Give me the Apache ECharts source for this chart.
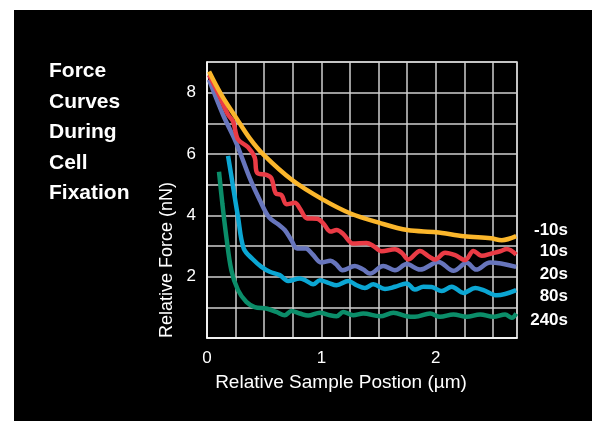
<!DOCTYPE html>
<html>
<head>
<meta charset="utf-8">
<script src="https://cdn.jsdelivr.net/npm/echarts@6/dist/echarts.min.js"></script>
<style>
  html, body { margin: 0; padding: 0; background: #fff; width: 592px; height: 421px; overflow: hidden; }
  #chart { position: absolute; left: 14px; top: 10px; width: 578px; height: 411px; }
</style>
</head>
<body>
<div id="chart"></div>
<script>
// series labels shown at the right edge, top to bottom
const seriesNames = ['-10s', '10s', '20s', '80s', '240s']
const titleLines  = ['Force', 'Curves', 'During', 'Cell', 'Fixation']
const xTickLabels = ['0', '1', '2']

// [position (µm), force]
const fix10 = [
  [0.018, 8.69], [0.126, 7.93], [0.257, 7.17], [0.374, 6.51], [0.496, 5.97],
  [0.744, 5.15], [1.01, 4.52], [1.255, 4.06], [1.503, 3.76], [1.751, 3.52],
  [2.002, 3.45], [2.248, 3.32], [2.481, 3.25], [2.577, 3.19], [2.703, 3.32],
]
const fixP10 = [
  [0.018, 8.58], [0.111, 7.88], [0.184, 7.28], [0.228, 7.06], [0.271, 6.48],
  [0.359, 6.22], [0.417, 5.89], [0.438, 5.39], [0.52, 5.32], [0.563, 5.21],
  [0.601, 4.72], [0.651, 4.66], [0.695, 4.36], [0.768, 4.41], [0.811, 4.23],
  [0.876, 3.90], [0.963, 3.89], [1.016, 3.74], [1.08, 3.47], [1.133, 3.52],
  [1.191, 3.39], [1.278, 3.08], [1.395, 3.10], [1.454, 3.00], [1.527, 2.83],
  [1.643, 2.89], [1.702, 2.78], [1.76, 2.56], [1.862, 2.84], [1.935, 2.67],
  [1.994, 2.56], [2.081, 2.78], [2.169, 2.70], [2.256, 2.54], [2.329, 2.84],
  [2.402, 2.68], [2.49, 2.76], [2.563, 2.83], [2.621, 2.90], [2.703, 2.72],
]
const fix20 = [
  [0.018, 8.42], [0.14, 7.28], [0.257, 6.35], [0.374, 5.21], [0.461, 4.50],
  [0.543, 3.93], [0.622, 3.71], [0.68, 3.52], [0.738, 3.19], [0.788, 2.92],
  [0.864, 2.92], [0.922, 2.73], [1.001, 2.46], [1.08, 2.52], [1.127, 2.41],
  [1.185, 2.21], [1.293, 2.35], [1.366, 2.23], [1.424, 2.10], [1.541, 2.35],
  [1.643, 2.21], [1.745, 2.41], [1.862, 2.23], [2.023, 2.48], [2.154, 2.19],
  [2.271, 2.45], [2.353, 2.23], [2.475, 2.46], [2.703, 2.32],
]
const fix80 = [
  [0.184, 5.94], [0.228, 4.93], [0.271, 3.95], [0.321, 2.92], [0.403, 2.56],
  [0.476, 2.32], [0.549, 2.16], [0.636, 2.05], [0.709, 1.86], [0.811, 1.94],
  [0.87, 1.86], [0.928, 1.75], [0.987, 1.88], [1.06, 1.80], [1.133, 1.72],
  [1.235, 1.86], [1.308, 1.72], [1.381, 1.63], [1.454, 1.75], [1.556, 1.60],
  [1.643, 1.67], [1.745, 1.78], [1.818, 1.58], [1.891, 1.67], [1.964, 1.66],
  [2.052, 1.53], [2.14, 1.67], [2.242, 1.47], [2.344, 1.63], [2.417, 1.56],
  [2.534, 1.39], [2.703, 1.56],
]
const fix240 = [
  [0.105, 5.42], [0.134, 4.39], [0.169, 3.30], [0.213, 2.21], [0.271, 1.56],
  [0.344, 1.18], [0.417, 1.01], [0.52, 0.96], [0.607, 0.85], [0.68, 0.74],
  [0.738, 0.88], [0.811, 0.80], [0.884, 0.73], [0.987, 0.82], [1.074, 0.74],
  [1.133, 0.71], [1.191, 0.85], [1.278, 0.74], [1.366, 0.80], [1.512, 0.71],
  [1.629, 0.82], [1.745, 0.71], [1.818, 0.69], [1.95, 0.80], [2.037, 0.69],
  [2.154, 0.77], [2.271, 0.69], [2.388, 0.77], [2.504, 0.69], [2.606, 0.77],
  [2.665, 0.66], [2.703, 0.80],
]

const COLORS = ['#fbb62b', '#ea3b45', '#6775bc', '#0ba6d3', '#0b8d69']
const seriesData = [fix10, fixP10, fix20, fix80, fix240]

const FONT = '"Liberation Sans", Arial, sans-serif'
const chart = echarts.init(document.getElementById('chart'))

// draw green first so the yellow curve ends up on top
const series = seriesData.map((d, i) => ({
  name: seriesNames[i],
  type: 'line',
  data: d,
  smooth: 0.35,
  showSymbol: false,
  z: 10 - i,
  lineStyle: { color: COLORS[i], width: 4.5 },
  itemStyle: { color: COLORS[i] },
}))

const rightLabelY = [220, 241.7, 264, 286.7, 310]

chart.setOption({
  backgroundColor: '#000',
  animation: false,
  grid: {
    left: 193, top: 52, width: 310, height: 276,
    show: true, borderColor: '#e0e0e0', borderWidth: 1.5,
  },
  xAxis: {
    type: 'value',
    min: 0, max: 2.71, interval: 0.25,
    axisLine: { show: true, lineStyle: { color: '#fff', width: 1.5 } },
    axisTick: { show: false },
    axisLabel: {
      color: '#fff', fontSize: 17, fontFamily: FONT, margin: 12,
      formatter: v => (Number.isInteger(v) ? xTickLabels[v] : ''),
    },
    splitLine: { show: true, lineStyle: { color: '#cfcfcf', width: 1.5 } },
  },
  yAxis: {
    type: 'value',
    min: 0, max: 9, interval: 1,
    axisLine: { show: true, lineStyle: { color: '#fff', width: 1.5 } },
    axisTick: { show: false },
    axisLabel: {
      color: '#fff', fontSize: 17, fontFamily: FONT, margin: 11,
      formatter: v => (v > 0 && v % 2 === 0 ? String(v) : ''),
    },
    splitLine: { show: true, lineStyle: { color: '#cfcfcf', width: 1.5 } },
  },
  graphic: [
    {
      type: 'text', left: 35, top: 46,
      style: {
        text: titleLines.join('\n'), fill: '#fff',
        font: 'bold 21px ' + FONT, lineHeight: 30.6,
      },
    },
    ...seriesNames.map((n, i) => ({
      type: 'text', x: 554, y: rightLabelY[i],
      style: {
        text: n, fill: '#fff', font: 'bold 17px ' + FONT,
        textAlign: 'right', textVerticalAlign: 'middle',
        align: 'right', verticalAlign: 'middle',
      },
    })),
    {
      type: 'text', x: 153.5, y: 250, rotation: Math.PI / 2,
      style: {
        text: 'Relative Force (nN)', fill: '#fff', font: '18px ' + FONT,
        textAlign: 'center', textVerticalAlign: 'middle',
        align: 'center', verticalAlign: 'middle',
      },
    },
    {
      type: 'text', x: 327, y: 373,
      style: {
        text: 'Relative Sample Postion (\u00b5m)', fill: '#fff', font: '19px ' + FONT,
        textAlign: 'center', textVerticalAlign: 'middle',
        align: 'center', verticalAlign: 'middle',
      },
    },
  ],
  series,
})
</script>
</body>
</html>
